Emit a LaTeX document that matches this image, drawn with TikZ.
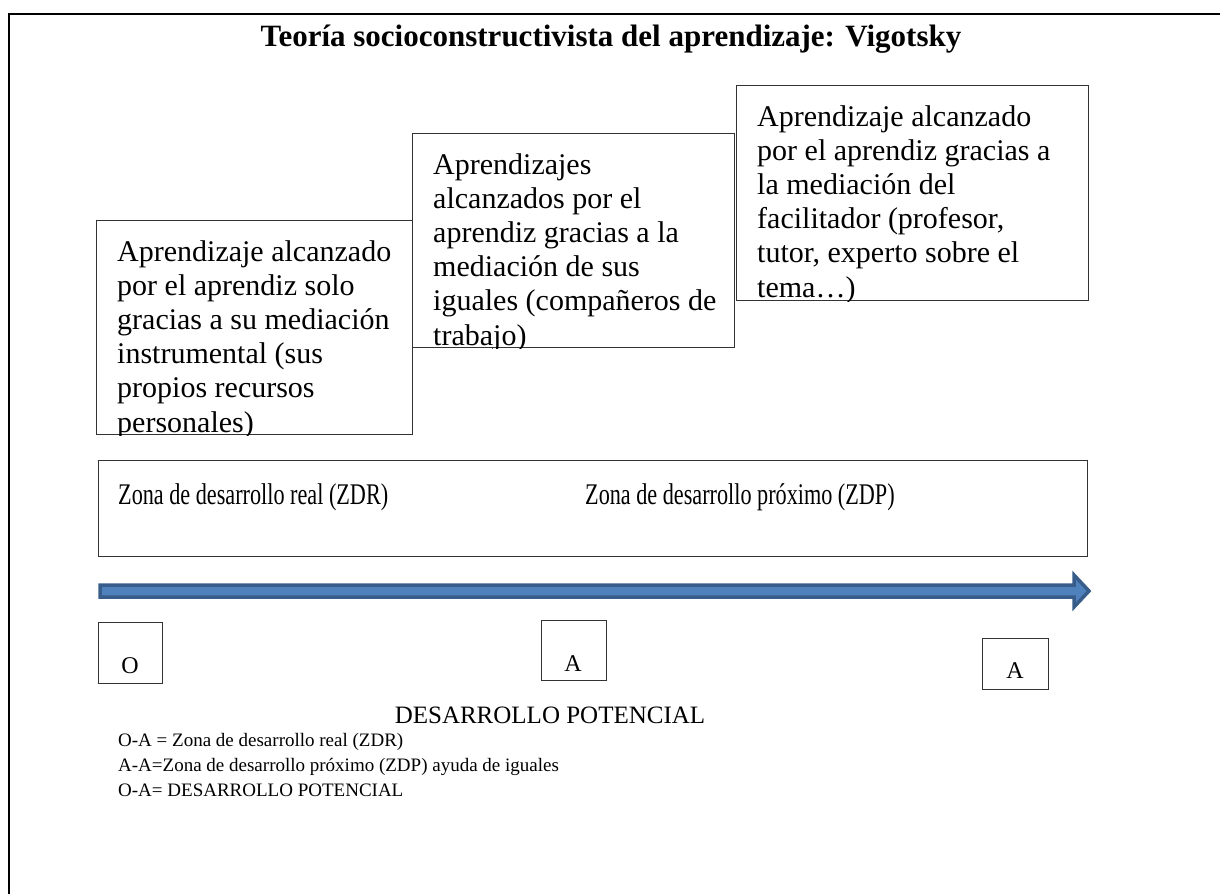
\documentclass[tikz,border=0pt]{standalone}
\usepackage{fontspec}
\setmainfont{Liberation Serif}
\newfontfamily\condserif[FakeStretch=0.74]{Liberation Serif}
\definecolor{arrowfill}{HTML}{4F81BD}
\definecolor{arrowline}{HTML}{385D8A}
\begin{document}
\begin{tikzpicture}[x=1pt,y=-1pt,
  box/.style={draw=black!80, line width=1pt, inner sep=0pt, anchor=north west},
  boxtext/.style={anchor=north west, inner sep=0pt, align=left, font=\fontsize{30}{34.2}\selectfont},
  zonetext/.style={anchor=base west, inner sep=0pt, font=\condserif\fontsize{30}{34}\selectfont},
  lettertext/.style={anchor=base, inner sep=0pt, font=\fontsize{24}{28}\selectfont},
  legend/.style={anchor=base west, inner sep=0pt, font=\fontsize{19}{23}\selectfont}]
\useasboundingbox (0,0) rectangle (1221,894);
% outer frame
\draw[line width=2pt] (1220,14) -- (9,14) -- (9,894);
% title
\node[inner sep=0pt, font=\bfseries\fontsize{31}{34}\selectfont] (title) at (611,39) {Teoría socioconstructivista del aprendizaje: Vigotsky};
% box 1
\node[box, minimum width=316pt, minimum height=214pt] (b1) at (96,220) {};
\begin{scope}
\clip (b1.south west) rectangle (b1.north east);
\node[boxtext] (t1) at (117,240) {Aprendizaje alcanzado\\por el aprendiz solo\\gracias a su mediación\\instrumental (sus\\propios recursos\\personales)};
\end{scope}
% box 2
\node[box, minimum width=322pt, minimum height=214pt] (b2) at (412,133) {};
\begin{scope}
\clip (b2.south west) rectangle (b2.north east);
\node[boxtext] (t2) at (433,153) {Aprendizajes\\alcanzados por el\\aprendiz gracias a la\\mediación de sus\\iguales (compañeros de\\trabajo)};
\end{scope}
% box 3
\node[box, minimum width=352pt, minimum height=215pt] (b3) at (736,85) {};
\begin{scope}
\clip (b3.south west) rectangle (b3.north east);
\node[boxtext] (t3) at (757,105) {Aprendizaje alcanzado\\por el aprendiz gracias a\\la mediación del\\facilitador (profesor,\\tutor, experto sobre el\\tema\ldots)};
\end{scope}
% zone box
\node[box, minimum width=989pt, minimum height=96pt] (zb) at (98,460) {};
\node[zonetext] (zdr) at (118,504) {Zona de desarrollo real (ZDR)};
\node[zonetext] (zdp) at (585,504) {Zona de desarrollo próximo (ZDP)};
% arrow
\coordinate (as) at (100,591);
\coordinate (ae) at (1089,591);
\filldraw[fill=arrowfill, draw=arrowline, line width=3.5pt, line join=miter]
  ([yshift=-6pt]as) -- ([xshift=-15pt,yshift=-6pt]ae) -- ([xshift=-15pt,yshift=-16pt]ae) -- (ae)
  -- ([xshift=-15pt,yshift=16pt]ae) -- ([xshift=-15pt,yshift=6pt]ae) -- ([yshift=6pt]as) -- cycle;
% letter boxes
\node[box, minimum width=64pt, minimum height=61pt] (bo) at (98,622) {};
\node[lettertext] (lo) at (130,673) {O};
\node[box, minimum width=65pt, minimum height=60pt] (ba1) at (541,620) {};
\node[lettertext] (la1) at (573,671) {A};
\node[box, minimum width=66pt, minimum height=51pt] (ba2) at (982,638) {};
\node[lettertext] (la2) at (1015,678) {A};
% legend
\node[anchor=base, inner sep=0pt, font=\fontsize{25}{29}\selectfont] (dp) at (550,723) {DESARROLLO POTENCIAL};
\node[legend] (l1) at (118,746) {O-A = Zona de desarrollo real (ZDR)};
\node[legend] (l2) at (118,771) {A-A=Zona de desarrollo próximo (ZDP) ayuda de iguales};
\node[legend] (l3) at (118,796) {O-A= DESARROLLO POTENCIAL};
\end{tikzpicture}
\end{document}
